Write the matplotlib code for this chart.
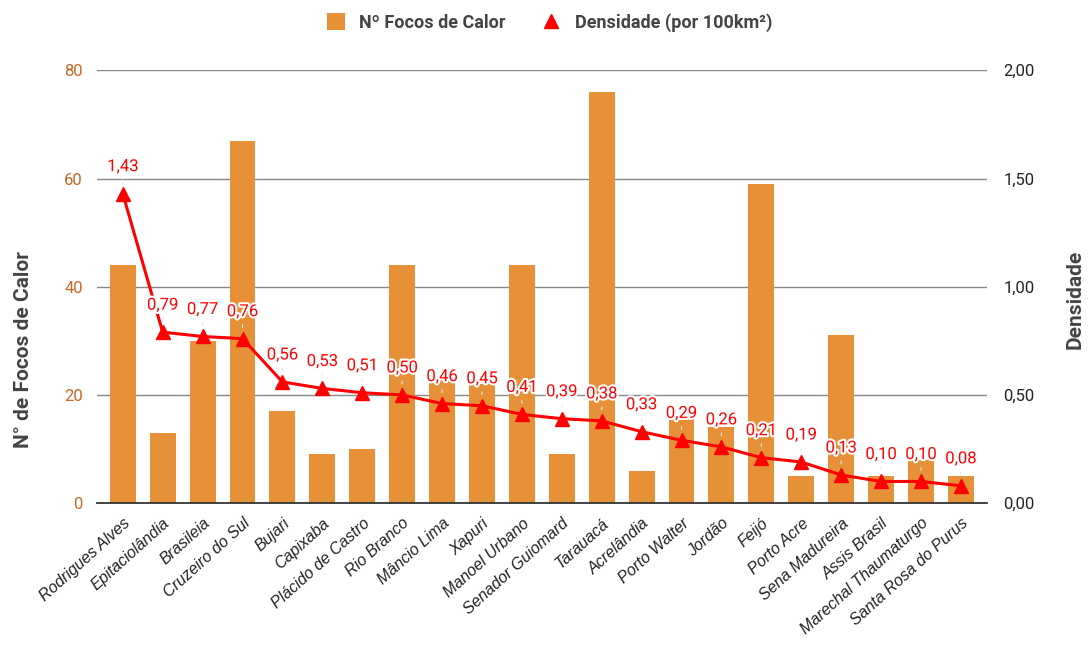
import numpy as np
import matplotlib
matplotlib.use("Agg")
import matplotlib.pyplot as plt
import matplotlib.patheffects as pe
from matplotlib.lines import Line2D
from matplotlib.patches import Patch

# -------------------------------------------------
# Data
# -------------------------------------------------

municipios = [
    "Rodrigues Alves", "Epitaciolândia", "Brasileia", "Cruzeiro do Sul",
    "Bujari", "Capixaba", "Plácido de Castro", "Rio Branco", "Mâncio Lima",
    "Xapuri", "Manoel Urbano", "Senador Guiomard", "Tarauacá", "Acrelândia",
    "Porto Walter", "Jordão", "Feijó", "Porto Acre", "Sena Madureira",
    "Assis Brasil", "Marechal Thaumaturgo", "Santa Rosa do Purus",
]

focos = [44, 13, 30, 67, 17, 9, 10, 44, 23, 22, 44, 9, 76, 6, 16, 14,
         59, 5, 31, 5, 8, 5]

densidade = [1.43, 0.79, 0.77, 0.76, 0.56, 0.53, 0.51, 0.50, 0.46, 0.45,
             0.41, 0.39, 0.38, 0.33, 0.29, 0.26, 0.21, 0.19, 0.13, 0.10,
             0.10, 0.08]

left_ticks = [0, 20, 40, 60, 80]
right_ticks = [0.0, 0.5, 1.0, 1.5, 2.0]

# -------------------------------------------------
# Style
# -------------------------------------------------

BAR_COLOR = "#E69138"
LINE_COLOR = "#FF0000"
LEFT_TICK_COLOR = "#C26A24"
TEXT_COLOR = "#444444"

plt.rcParams["font.family"] = ["Roboto", "DejaVu Sans"]


def fmt(v, decimals=2):
    return f"{v:.{decimals}f}".replace(".", ",")


# -------------------------------------------------
# Plot
# -------------------------------------------------

fig = plt.figure(figsize=(10.88, 6.45), dpi=100)
ax = fig.add_axes([0.089, 0.22, 0.818, 0.671])
ax2 = ax.twinx()

x = np.arange(len(municipios))

ax.bar(x, focos, width=0.65, color=BAR_COLOR, zorder=2)
ax.set_xlim(-0.65, len(municipios) - 0.35)
ax.set_ylim(0, 80)
ax.set_yticks(left_ticks)
ax.set_yticklabels([str(t) for t in left_ticks], color=LEFT_TICK_COLOR, fontsize=12)
ax.grid(axis="y", color="#888888", linewidth=1.0, zorder=0)
ax.set_axisbelow(True)

for side in ["top", "left", "right"]:
    ax.spines[side].set_visible(False)
    ax2.spines[side].set_visible(False)
ax.spines["bottom"].set_color("#333333")
ax.spines["bottom"].set_linewidth(1.3)
ax2.spines["bottom"].set_visible(False)

ax.tick_params(axis="y", length=0, pad=10)
ax.set_xticks(x)
ax.set_xticklabels(municipios, rotation=42, ha="right", rotation_mode="anchor",
                   fontsize=11.5, family="Liberation Sans", style="italic", color="#222222")
ax.tick_params(axis="x", length=0, pad=9)

ax.set_ylabel("N° de Focos de Calor", fontsize=15, fontweight="bold",
              color=TEXT_COLOR)
ax.yaxis.set_label_coords(-0.072, 0.355)

# density line on the right axis
ax2.plot(x, densidade, color=LINE_COLOR, linewidth=2.2, marker="^",
         markersize=10, zorder=5)
ax2.set_ylim(0, 2.0)
ax2.set_yticks(right_ticks)
ax2.set_yticklabels([fmt(t) for t in right_ticks], fontsize=12, color="#222222")
ax2.tick_params(axis="y", length=0, pad=12)
ax2.set_ylabel("Densidade", fontsize=15, fontweight="bold", color=TEXT_COLOR,
               rotation=90)
ax2.yaxis.set_label_coords(1.088, 0.47)

halo = [pe.withStroke(linewidth=3, foreground="white")]
for xi, d in zip(x, densidade):
    ax2.annotate(
        fmt(d), xy=(xi, d), xytext=(0, 14), textcoords="offset points",
        ha="center", va="bottom", fontsize=12, color=LINE_COLOR,
        path_effects=halo, zorder=6,
        arrowprops=dict(arrowstyle="-", color="#E6E6E6", linewidth=0.8,
                        shrinkA=2, shrinkB=8),
    )

# legend
handles = [
    Patch(facecolor=BAR_COLOR, edgecolor="none", label="Nº Focos de Calor"),
    Line2D([], [], color=LINE_COLOR, marker="^", linestyle="none",
           markersize=10, label="Densidade (por 100km²)"),
]
leg = fig.legend(handles=handles, loc="upper center", bbox_to_anchor=(0.505, 1.005),
                 ncol=2, frameon=False, fontsize=13, handlelength=1.0,
                 handleheight=1.0, columnspacing=2.0, handletextpad=0.8)
for t in leg.get_texts():
    t.set_fontweight("bold")
    t.set_color(TEXT_COLOR)

fig.savefig("out.png", dpi=100)
